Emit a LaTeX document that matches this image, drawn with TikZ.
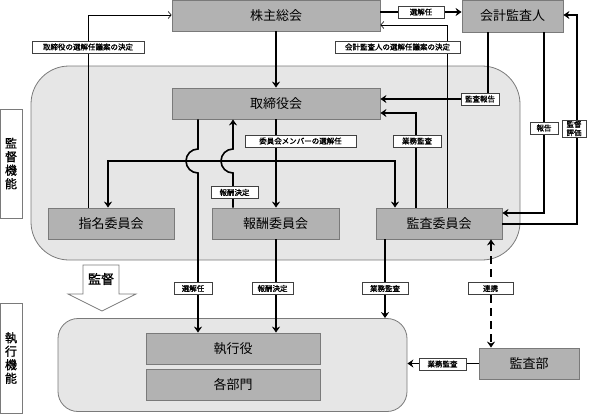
\documentclass[tikz,border=0pt]{standalone}
\usepackage{fontspec}
\setmainfont{Noto Sans CJK JP}
\newfontfamily\tagfont{Noto Sans CJK JP}[FakeBold=1.2]
\usepackage{xcolor}
\usepackage{tikz}
\usetikzlibrary{arrows.meta}
\definecolor{boxfill}{HTML}{B2B2B2}
\definecolor{edge}{HTML}{7A7A7A}
\definecolor{zonefill}{HTML}{E6E6E6}
\tikzset{
  unit/.style={draw=edge, fill=boxfill, line width=0.8pt, minimum height=31pt, inner sep=0pt, font=\fontsize{13}{13}\selectfont},
  region/.style={draw=edge, fill=zonefill, line width=0.8pt, inner sep=0pt},
  side/.style={draw=edge, fill=white, line width=0.8pt, minimum width=22pt, inner sep=0pt, align=center, font=\tagfont\fontsize{12}{13.5}\selectfont},
  tag/.style={draw=black!75, fill=white, line width=0.6pt, minimum height=12pt, inner sep=1.5pt, font=\tagfont\fontsize{7.5}{8.5}\selectfont},
  flow/.style={line width=1.6pt, -{Stealth[length=6pt,width=8pt,inset=2pt]}},
  both/.style={line width=1.6pt, dash pattern=on 8pt off 5pt, {Stealth[length=6pt,width=8pt,inset=2pt]}-{Stealth[length=6pt,width=8pt,inset=2pt]}},
  hint/.style={line width=0.6pt, -{Straight Barb[length=3pt,width=7pt]}},
  blockarr/.style={draw=edge, fill=white, line width=0.7pt},
}
\begin{document}
\begin{tikzpicture}[x=1pt,y=-1pt]
  \useasboundingbox (0,0) rectangle (595,413);
  % areas
  \node[region, rounded corners=38pt, minimum width=489, minimum height=194] (board) at (275.5,163) {};
  \node[region, rounded corners=20pt, minimum width=349, minimum height=93] (exec) at (232.5,365) {};
  \node[side, minimum height=109] (kantoku) at (11,163.5) {監\\督\\機\\能};
  \node[side, minimum height=110] (shikko) at (11,358) {執\\行\\機\\能};
  \draw[blockarr] (83,265) -- (119,265) -- (119,294) -- (136,294) -- (102,311) -- (68,294) -- (83,294) -- cycle;
  \node[font=\tagfont\fontsize{13}{13}\selectfont] (kantokuarr) at (101,279) {監督};
  % boxes
  \node[unit, minimum width=208] (gm) at (276,15.5) {株主総会};
  \node[unit, minimum width=101, minimum height=32] (auditor) at (512.5,16) {会計監査人};
  \node[unit, minimum width=208] (bod) at (276,103.5) {取締役会};
  \node[unit, minimum width=126] (nom) at (111,223.5) {指名委員会};
  \node[unit, minimum width=127] (comp) at (275.5,223.5) {報酬委員会};
  \node[unit, minimum width=126] (audit) at (439,223.5) {監査委員会};
  \node[unit, minimum width=174] (officer) at (233,348.5) {執行役};
  \node[unit, minimum width=174] (dept) at (233,384.5) {各部門};
  \node[unit, minimum width=100] (iaudit) at (529,363.5) {監査部};
  % shareholders and auditor
  \draw[flow] (gm) -- (bod);
  \draw[flow] (gm.east |- 0,12) -- node[tag, minimum width=46] {選解任} (auditor.west |- 0,12);
  \draw[hint] (nom.north -| 88,0) |- (gm.west |- 0,15);
  \node[tag, minimum width=112] (t1) at (88,47) {取締役の選解任議案の決定};
  \draw[hint] (audit.north -| 447,0) |- (gm.east |- 0,25);
  \node[tag, minimum width=125] (t2) at (397.5,47) {会計監査人の選解任議案の決定};
  \draw[flow] (auditor.south -| 488,0) |- (bod.east |- 0,99);
  \node[tag, minimum width=38] (t3) at (480,99) {監査報告};
  \draw[flow] (audit.north -| 416,0) |- (bod.east |- 0,113);
  \node[tag, minimum width=48] (t4) at (417,141) {業務監査};
  \draw[flow] (auditor.south -| 544,0) |- (audit.east |- 0,213);
  \node[tag, minimum width=28] (t5) at (544,128) {報告};
  \coordinate (turn) at (577,15);
  \draw[flow] (audit.east |- 0,224) -| (turn) -- (auditor.east |- turn);
  \node[tag, minimum width=24, inner sep=1pt, align=center] (t6) at (574,128.5) {監督\\評価};
  % committees
  \coordinate (bus) at (bod.south |- 0,161);
  \draw[flow] (bod.south) -- (bod.south |- comp.north);
  \draw[flow] (bus) -| ([xshift=-3pt]nom.north);
  \draw[flow] (bus) -| ([xshift=-44pt]audit.north);
  \node[tag, minimum width=111] (t7) at (300.5,141) {委員会メンバーの選解任};
  \draw[flow] (bod.south -| 198,0) -- (198,149) arc[start angle=90, end angle=270, radius=12pt] -- (officer.north -| 198,0);
  \node[tag, minimum width=38] (t8) at (193,288.5) {選解任};
  \draw[flow] (comp.north -| 233,0) -- (233,173) arc[start angle=270, end angle=90, radius=12pt] -- (bod.south -| 233,0);
  \node[tag, minimum width=47] (t9) at (234.5,192.5) {報酬決定};
  % execution
  \draw[flow] (comp.south -| 276,0) -- (officer.north -| 276,0);
  \node[tag, minimum width=41] (t10) at (272.5,288.5) {報酬決定};
  \draw[flow] (audit.south -| 385,0) -- (exec.north -| 385,0);
  \node[tag, minimum width=46] (t11) at (385,288.5) {業務監査};
  \draw[both] (audit.south -| 491,0) -- (iaudit.north -| 491,0);
  \node[tag, minimum width=45] (t12) at (490.5,288.5) {連携};
  \draw[flow] (iaudit.west) -- (exec.east |- iaudit.west);
  \node[tag, minimum width=47] (t13) at (442.5,364) {業務監査};
\end{tikzpicture}
\end{document}
